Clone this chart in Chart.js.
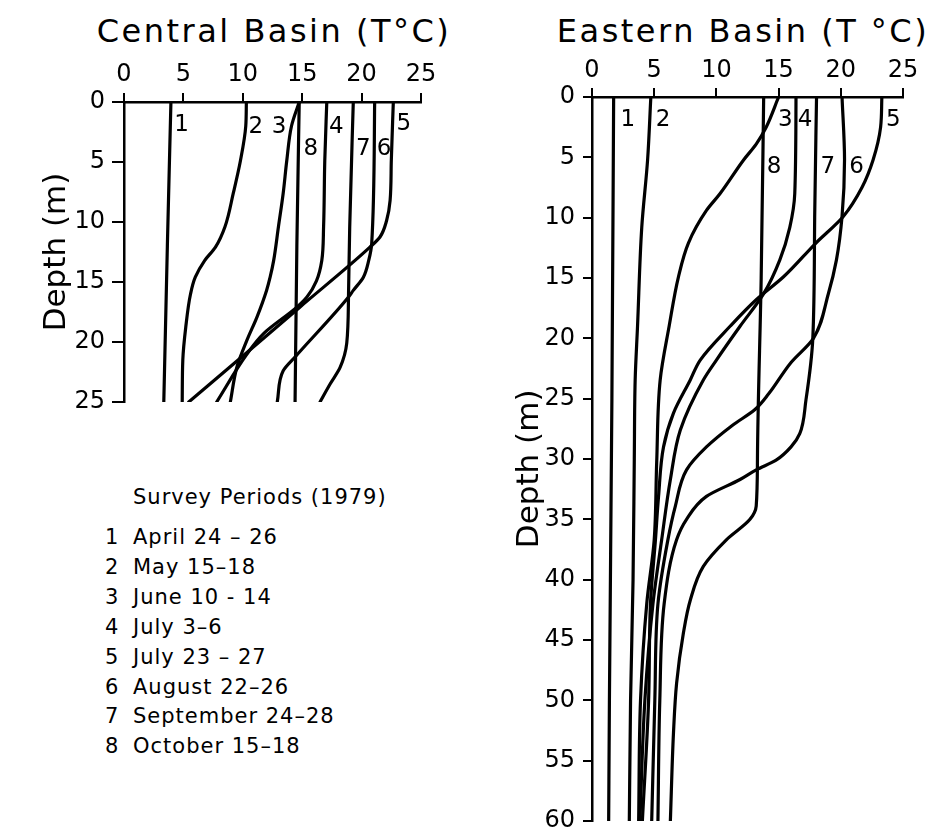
<!DOCTYPE html>
<html>
<head>
<meta charset="utf-8">
<script src="https://cdn.jsdelivr.net/npm/chart.js@4.4.0/dist/chart.umd.min.js"></script>
<style>
  body { margin: 0; background: #fff; }
  #wrap { position: relative; width: 939px; height: 835px; overflow: hidden; font-family: "DejaVu Sans", sans-serif; color: #000; }
  canvas { position: absolute; top: 0; }
  .title { position: absolute; top: 12px; font-size: 32px; letter-spacing: 2.5px; line-height: 38px; white-space: nowrap; transform: translateX(-50%); }
  .leg { position: absolute; font-size: 21px; letter-spacing: 1px; white-space: nowrap; line-height: 26px; }
</style>
</head>
<body>
<div id="wrap">
  <div class="title" style="left:274px">Central Basin (T°C)</div>
  <div class="title" style="left:743px">Eastern Basin (T °C)</div>
  <canvas id="central" width="470" height="430" style="left:0"></canvas>
  <canvas id="eastern" width="469" height="850" style="left:470px"></canvas>
  <div id="legend"></div>
</div>
<script>
// survey periods, 1979
var periods = ['April 24 – 26', 'May 15–18', 'June 10 - 14', 'July 3–6', 'July 23 – 27', 'August 22–26', 'September 24–28', 'October 15–18'];
var tempTicks = [0, 5, 10, 15, 20, 25];

// profiles as [depth m, temperature °C]
// Central Basin
var central1 = [[0, 3.95], [12, 3.65], [25, 3.35]];
var central2 = [[0, 10.3], [2, 10.25], [4.9, 9.8], [7.6, 9.2], [10.4, 8.5], [12.1, 7.7], [13.2, 6.8], [14.6, 6.0], [16, 5.6], [18.75, 5.2], [21.5, 4.95], [25, 4.9]];
var central3 = [[0, 14.75], [2, 14.1], [4.9, 13.7], [7.6, 13.4], [10.4, 13.0], [13.2, 12.6], [14.6, 12.3], [15.7, 12.0], [17.9, 11.2], [19.85, 10.35], [22.1, 9.5], [25, 8.95]];
var central4 = [[0, 17.07], [4.9, 16.9], [10.4, 16.8], [13.2, 16.65], [14.9, 16.2], [16.25, 15.4], [17.1, 14.55], [19.3, 11.75], [21, 10.35], [25, 7.8]];
var central5 = [[0, 22.67], [4.9, 22.5], [8.2, 22.4], [9.9, 22.1], [11.25, 21.55], [12.1, 20.7], [17.1, 14.8], [21, 10.2], [25, 5.45]];
var central6 = [[0, 21.1], [11.8, 20.85], [13.2, 20.6], [14.6, 20.15], [15.7, 19.3], [16.25, 18.9], [21.25, 14.4], [22.4, 13.4], [25, 12.9]];
var central7 = [[0, 19.3], [10.4, 19.0], [16, 18.9], [20.1, 18.75], [22.1, 18.2], [23.5, 17.35], [25, 16.5]];
var central8 = [[0, 14.75], [12, 14.55], [25, 14.4]];

// Eastern Basin
var eastern1 = [[0, 1.74], [25, 1.6], [50, 1.4], [60, 1.34]];
var eastern2 = [[0, 4.73], [5.2, 4.47], [10.8, 4.0], [19, 3.66], [23.45, 3.47], [30, 3.4], [40, 3.3], [50, 3.1], [60, 3.0]];
var eastern3 = [[0, 15.0], [2.5, 14.0], [3.9, 13.2], [5.2, 12.2], [8, 10.3], [9.4, 9.2], [12.1, 7.75], [14.9, 6.95], [19, 6.2], [23.45, 5.48], [30.3, 5.2], [36.7, 5.0], [42, 4.4], [50, 3.9], [60, 3.75]];
var eastern4 = [[0, 16.4], [8, 16.3], [10.8, 15.9], [13.5, 15.1], [16.3, 13.8], [19, 11.9], [21.8, 10.0], [23.45, 8.95], [27.6, 7.1], [31.7, 6.3], [36.7, 5.6], [42, 4.9], [50, 4.25], [60, 3.85]];
var eastern5 = [[0, 23.3], [2.5, 23.2], [5.2, 22.6], [7.5, 21.7], [9.9, 20.2], [12.1, 18.0], [14.9, 15.4], [16.8, 13.2], [19, 11.1], [21.8, 8.7], [23.45, 7.9], [26.2, 6.55], [29, 5.75], [33.1, 5.35], [36.7, 5.1], [42, 4.7], [50, 4.55], [60, 4.05]];
var eastern6 = [[0, 20.1], [5.2, 20.3], [9.9, 20.1], [13.5, 19.65], [16.3, 19.0], [20, 17.8], [22, 16.0], [24.6, 14.2], [25.9, 13.1], [27.2, 11.3], [29, 9.2], [30.9, 7.6], [33.9, 6.7], [36.7, 6.1], [42, 5.3], [50, 5.05], [60, 4.8]];
var eastern7 = [[0, 18.05], [10, 17.9], [20, 17.75], [25.1, 17.2], [27.9, 16.7], [29, 16.0], [30.1, 14.8], [30.9, 13.2], [31.7, 11.9], [33.1, 9.2], [35, 7.6], [36.7, 6.8], [42, 5.8], [50, 5.45], [60, 5.3]];
var eastern8 = [[0, 13.8], [15, 13.6], [30, 13.3], [33.9, 13.2], [35, 12.7], [36.7, 10.8], [38.9, 8.95], [41.7, 7.9], [44.4, 7.35], [48.6, 6.8], [52.7, 6.55], [60, 6.3]];

var centralSeries = [central1, central2, central3, central4, central5, central6, central7, central8];
var easternSeries = [eastern1, eastern2, eastern3, eastern4, eastern5, eastern6, eastern7, eastern8];

var FONT = '"DejaVu Sans", sans-serif';

// temperature of a profile at a given depth (for placing the number labels)
function tempAt(points, depth) {
    for (var i = 1; i < points.length; i++) {
        if (points[i].y >= depth) {
            var a = points[i - 1], b = points[i];
            return a.x + (b.x - a.x) * (depth - a.y) / (b.y - a.y);
        }
    }
    return points[points.length - 1].x;
}

// writes the period number beside each curve
var curveNumbers = {
    id: 'curveNumbers',
    afterDatasetsDraw: function (chart, args, opts) {
        var ctx = chart.ctx, x = chart.scales.x, y = chart.scales.y;
        ctx.save();
        ctx.font = '23px ' + FONT;
        ctx.fillStyle = '#000';
        ctx.textBaseline = 'middle';
        opts.items.forEach(function (it, i) {
            var t = tempAt(chart.data.datasets[i].data, it.depth);
            ctx.textAlign = it.dx < 0 ? 'right' : 'left';
            ctx.fillText(String(i + 1), x.getPixelForValue(t) + it.dx, y.getPixelForValue(it.depth));
        });
        ctx.restore();
    }
};

function makeChart(id, series, maxDepth, o) {
    var datasets = series.map(function (s, i) {
        return {
            label: periods[i],
            data: s.map(function (p) { return { x: p[1], y: p[0] }; }),
            borderColor: '#000',
            borderWidth: 3.2,
            borderCapStyle: 'round',
            borderJoinStyle: 'round',
            pointRadius: 0,
            cubicInterpolationMode: 'monotone',
            fill: false
        };
    });
    return new Chart(document.getElementById(id), {
        type: 'line',
        data: { datasets: datasets },
        plugins: [curveNumbers],
        options: {
            responsive: false,
            animation: false,
            indexAxis: 'y',
            layout: { padding: o.pad },
            plugins: {
                legend: { display: false },
                tooltip: { enabled: false },
                curveNumbers: { items: o.labels }
            },
            scales: {
                x: {
                    type: 'linear', position: 'top', min: 0, max: 25,
                    afterBuildTicks: function (s) { s.ticks = tempTicks.map(function (v) { return { value: v }; }); },
                    ticks: { color: '#000', font: { family: FONT, size: 24 }, padding: o.xPad, maxRotation: 0 },
                    grid: { drawOnChartArea: false, color: '#000', lineWidth: 2, tickLength: 9 },
                    border: { color: '#000', width: 2.5 },
                    afterFit: function (s) { s.height = 50; }
                },
                y: {
                    type: 'linear', reverse: true, min: 0, max: maxDepth,
                    ticks: { stepSize: 5, color: '#000', font: { family: FONT, size: 24 }, padding: o.yPad },
                    grid: { drawOnChartArea: false, color: '#000', lineWidth: 2, tickLength: o.yTick },
                    border: { color: '#000', width: 2.5 },
                    title: { display: true, text: o.yTitle, color: '#000', font: { family: FONT, size: 31 }, padding: 0 },
                    afterFit: function (s) { s.width = o.yWidth; }
                }
            }
        }
    });
}

makeChart('central', centralSeries, 25, {
    pad: { left: 38, right: 49, top: 52, bottom: 28 }, yWidth: 86, xPad: 4, yPad: 7, yTick: 12,
    yTitle: 'Depth (m)',
    labels: [
        { depth: 1.95, dx: 4 }, { depth: 2.1, dx: 3 }, { depth: 2.1, dx: -5 }, { depth: 2.1, dx: 3 },
        { depth: 1.8, dx: 4 }, { depth: 3.9, dx: 3 }, { depth: 3.9, dx: 4 }, { depth: 3.9, dx: 5 }
    ]
});

makeChart('eastern', easternSeries, 60, {
    pad: { left: 41, right: 36, top: 47, bottom: 29 }, yWidth: 81, xPad: 3, yPad: 8, yTick: 9,
    yTitle: 'Depth (m)\u00a0\u00a0',   // trailing spaces nudge the label a little lower, as in the original
    labels: [
        { depth: 1.95, dx: 7 }, { depth: 1.95, dx: 6 }, { depth: 1.95, dx: 9 }, { depth: 1.95, dx: 2 },
        { depth: 1.95, dx: 5 }, { depth: 5.8, dx: 5 }, { depth: 5.8, dx: 5 }, { depth: 5.8, dx: 4 }
    ]
});

// legend block under the central panel
var legend = document.getElementById('legend');
function addLine(text, left, centerY) {
    var d = document.createElement('div');
    d.className = 'leg';
    d.style.left = left + 'px';
    d.style.top = (centerY - 13) + 'px';
    d.textContent = text;
    legend.appendChild(d);
}
addLine('Survey Periods (1979)', 133, 497);
periods.forEach(function (p, i) {
    var cy = 537 + i * 29.9;
    addLine(String(i + 1), 105, cy);
    addLine(p, 133, cy);
});
</script>
</body>
</html>
